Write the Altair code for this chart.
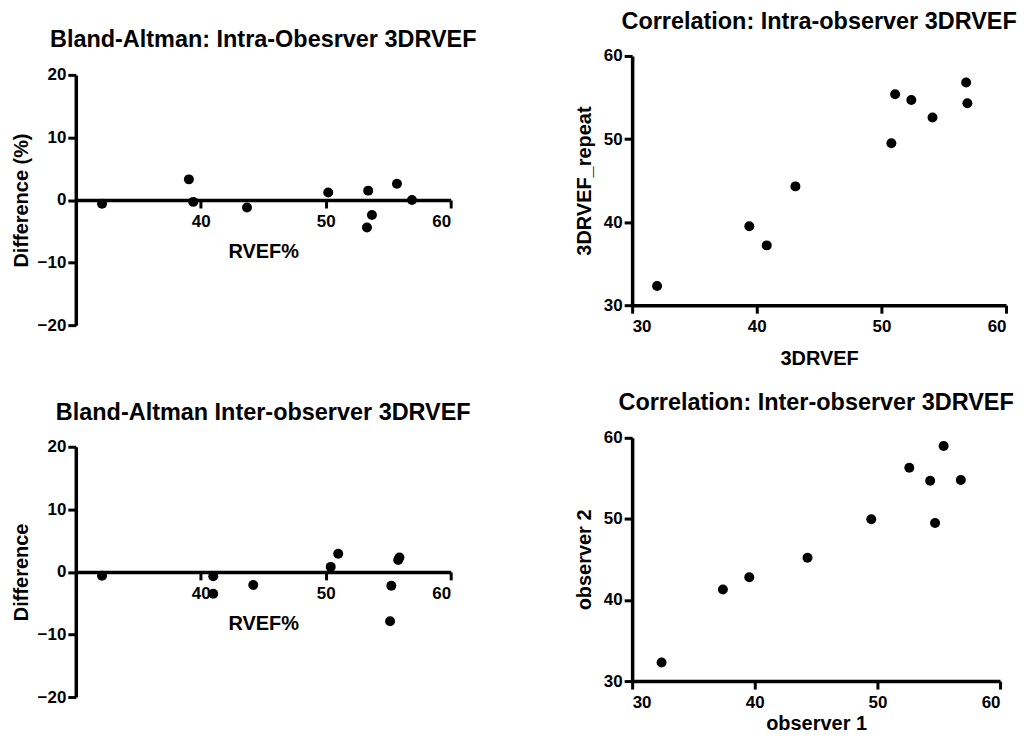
import altair as alt
import pandas as pd

# Bland-Altman intra-observer: mean (RVEF%) and difference
ba_intra_mean = [32.1, 39.05, 39.4, 43.7, 50.2, 53.4, 53.7, 53.3, 55.7, 56.9]
ba_intra_diff = [-0.6, 3.3, -0.3, -1.2, 1.2, 1.5, -2.4, -4.4, 2.6, 0.0]

# Correlation intra-observer
corr_intra_x = [32.0, 39.4, 40.8, 43.1, 50.8, 51.1, 52.4, 54.1, 56.8, 56.9]
corr_intra_y = [32.3, 39.5, 37.2, 44.3, 49.5, 55.4, 54.7, 52.6, 56.8, 54.3]

# Bland-Altman inter-observer
ba_inter_mean = [32.1, 41.0, 41.0, 44.2, 50.4, 51.0, 55.25, 55.15, 55.9, 55.8]
ba_inter_diff = [-0.6, -0.7, -3.5, -2.1, 0.8, 2.9, -2.2, -7.9, 2.3, 1.9]

# Correlation inter-observer
corr_inter_x = [32.4, 37.4, 39.55, 44.3, 49.5, 52.6, 54.3, 55.4, 54.7, 56.8]
corr_inter_y = [32.3, 41.3, 42.8, 45.2, 49.95, 56.3, 54.7, 59.0, 49.5, 54.8]

BA_X_TICKS = [40, 50, 60]
BA_Y_TICKS = [-20, -10, 0, 10, 20]
CORR_TICKS = [30, 40, 50, 60]

FONT = "Liberation Sans"

axis_style = dict(
    domainColor="black", domainWidth=3.5, tickColor="black", tickWidth=3,
    tickSize=8, labelFont=FONT, labelFontSize=17, labelFontWeight="bold",
    labelColor="black", titleFont=FONT, titleFontSize=20, titleFontWeight="bold",
    titleColor="black", grid=False,
)


def ba_panel(mean, diff, title, ytitle, height, top, title_dy):
    df = pd.DataFrame({"mean": mean, "diff": diff})
    zero_px = top + (height - top) / 2.0
    return alt.Chart(df).mark_circle(size=100, color="black", opacity=1).encode(
        x=alt.X("mean:Q",
                scale=alt.Scale(domain=[30, 60], nice=False, zero=False),
                axis=alt.Axis(values=BA_X_TICKS, title="RVEF%",
                              offset=-(height - zero_px), labelPadding=6,
                              titlePadding=12, **axis_style)),
        y=alt.Y("diff:Q",
                scale=alt.Scale(domain=[-20, 20], nice=False, range=[height, top]),
                axis=alt.Axis(values=BA_Y_TICKS, title=ytitle, labelPadding=2,
                              titlePadding=6, **axis_style)),
    ).properties(width=376, height=height,
                 title=alt.TitleParams(title, dy=title_dy))


def corr_panel(x, y, title, xtitle, ytitle, width, height, xtitle_pad):
    df = pd.DataFrame({"x": x, "y": y})
    return alt.Chart(df).mark_circle(size=100, color="black", opacity=1).encode(
        x=alt.X("x:Q", scale=alt.Scale(domain=[30, 60], nice=False, zero=False),
                axis=alt.Axis(values=CORR_TICKS, title=xtitle, labelPadding=5,
                              titlePadding=xtitle_pad, **axis_style)),
        y=alt.Y("y:Q", scale=alt.Scale(domain=[30, 60], nice=False, zero=False),
                axis=alt.Axis(values=CORR_TICKS, title=ytitle, labelPadding=2,
                              titlePadding=9, **axis_style)),
    ).properties(width=width, height=height, title=alt.TitleParams(title))


p1 = ba_panel(ba_intra_mean, ba_intra_diff,
              "Bland-Altman: Intra-Obesrver 3DRVEF", "Difference (%)", 270, 19, 10)
p2 = corr_panel(corr_intra_x, corr_intra_y,
                "Correlation: Intra-observer 3DRVEF", "3DRVEF", "3DRVEF_repeat",
                375, 250, 14)
p3 = ba_panel(ba_inter_mean, ba_inter_diff,
              "Bland-Altman Inter-observer 3DRVEF", "Difference", 260, 9, 1)
p4 = corr_panel(corr_inter_x, corr_inter_y,
                "Correlation: Inter-observer 3DRVEF", "observer 1", "observer 2",
                369, 244, 4)

chart = alt.concat(
    p1, p2, p3, p4, columns=2, bounds="flush", align="each",
    spacing={"row": 113, "column": 182},
).properties(
    padding={"left": 3, "top": 0, "right": 0, "bottom": 0},
    background="white",
).configure_view(stroke=None).configure_title(
    font=FONT, fontSize=23.5, fontWeight="bold", color="black", offset=14, anchor="middle"
)

chart.save("out.html", embed_options={"renderer": "svg", "actions": False})
